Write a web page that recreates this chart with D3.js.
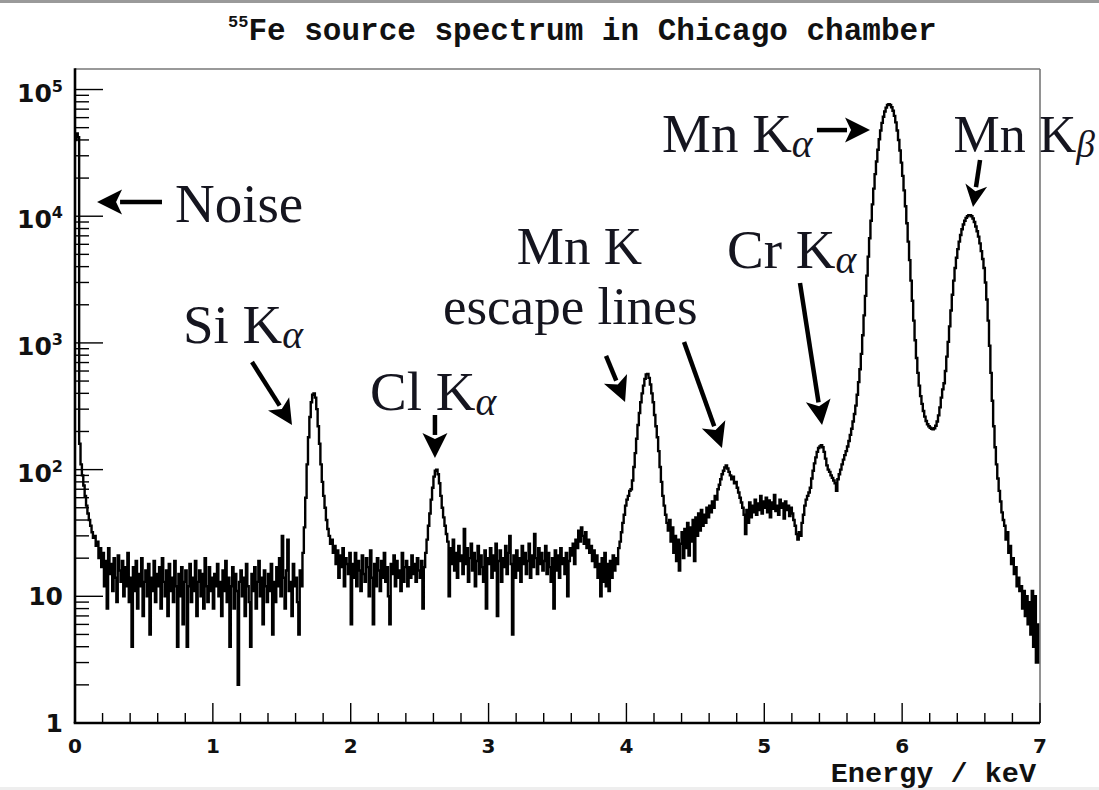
<!DOCTYPE html>
<html><head><meta charset="utf-8">
<script src="https://cdn.jsdelivr.net/npm/d3@7"></script>
<style>body{margin:0;background:#fff;overflow:hidden}</style>
</head><body>
<svg id="c" width="1099" height="790"></svg>
<script>
// ---------- DATA (counts per 0.01 keV bin) ----------
const binWidthKeV = 0.01;
const spec0to1 = [
  40000,45000,42000,160,110,90,75,62,52,45,40,36,32,29,30,25,27,20,24,17,
  22,12,19,8,24,15,18,11,20,14,9,21,16,13,19,10,17,12,22,9,
  14,4,17,11,19,8,15,12,20,7,13,16,10,18,5,14,11,19,9,15,
  12,17,8,20,13,10,16,7,18,11,14,9,19,12,4,15,10,17,6,13,
  16,4,12,18,9,14,11,19,7,13,16,10,15,8,20,12,9,17,11,14];
const spec1to2 = [
  8,15,12,18,10,13,7,16,11,19,9,14,4,12,17,8,15,11,2,13,
  16,10,14,7,18,12,9,4,15,11,17,8,13,19,10,14,6,16,12,9,
  15,11,18,5,13,9,17,12,20,10,30,14,8,16,28,11,13,7,18,12,
  14,9,5,16,12,22,35,60,110,180,260,340,390,400,370,300,220,160,110,80,
  62,50,40,34,30,26,28,22,25,18,23,14,21,17,24,12,20,18,15,22];
const spec2to3 = [
  6,18,14,22,12,19,16,11,21,15,13,20,17,10,23,14,6,18,12,20,
  16,11,19,14,22,13,17,10,6,18,15,21,12,19,14,16,11,22,13,17,
  19,12,17,14,21,15,18,13,20,16,14,19,8,17,22,28,36,45,58,72,
  88,98,100,92,78,62,50,42,36,31,27,10,24,18,28,16,22,14,25,19,
  21,15,34,18,24,13,20,26,16,22,12,19,25,15,21,17,13,23,8,20];
const spec3to4 = [
  18,24,14,21,16,26,7,19,23,13,20,17,25,15,22,30,18,5,21,14,
  23,16,20,13,25,18,22,15,19,26,14,21,17,31,20,15,24,18,22,16,
  19,25,15,22,17,13,20,8,23,16,21,14,24,18,20,15,22,10,19,24,
  21,26,18,28,24,33,27,35,30,26,32,24,28,22,25,19,23,17,21,14,
  18,10,20,13,22,12,18,11,19,14,21,16,20,18,24,27,32,38,44,52];
const spec4to5 = [
  58,62,68,70,82,105,135,175,225,280,340,400,460,520,565,570,530,470,400,340,
  270,220,180,140,105,80,62,52,44,38,33,40,27,35,22,30,19,28,16,26,
  32,20,34,24,38,21,35,27,40,19,42,30,45,33,48,36,44,38,50,42,
  52,46,56,50,62,58,70,76,84,92,98,104,108,102,96,90,84,88,78,80,
  72,66,60,55,50,44,31,48,38,55,42,52,46,58,44,54,48,62,45,56];
const spec5to6 = [
  50,60,46,57,42,55,49,63,47,52,44,58,50,54,41,56,48,52,43,50,
  45,40,36,31,28,32,30,38,44,52,58,62,66,72,85,98,112,125,138,148,
  152,156,150,138,122,108,100,96,90,86,82,78,68,84,92,100,110,120,130,140,
  152,168,188,210,240,275,320,390,490,620,820,1150,1650,2350,3400,4800,6700,9200,12400,16500,
  21500,27000,33500,40500,47500,54500,61000,67000,72000,75500,76500,75500,72500,68000,62000,55000,47500,40000,33000,26500];
const spec6to7 = [
  20800,16000,12000,8800,6300,4500,3100,2150,1500,1050,760,580,460,380,330,290,262,242,228,220,
  214,210,208,212,222,240,268,310,370,430,480,600,780,1020,1350,1800,2400,3100,3900,4700,
  5500,6300,7100,7900,8600,9200,9700,10000,10200,10200,10000,9600,9000,8300,7600,6900,6100,5300,4600,3900,
  3000,2200,1500,950,580,350,220,150,110,85,68,56,46,40,36,28,32,22,25,18,
  20,15,17,12,14,11,12,8,11,7,10,6,9,5,11,4,10,3,6,3];

const xMajorTicks = [0,1,2,3,4,5,6,7];
const xTickLabels = ["0","1","2","3","4","5","6","7"];
const yMajorTicks = [1,10,100,1000,10000,100000];
const yTickBase = ["1","10","10","10","10","10"];
const yTickExp  = ["","","2","3","4","5"];

const titleSup = "55";
const titleText = "Fe source spectrum in Chicago chamber";
const xAxisTitle = "Energy / keV";

// annotation labels in data units (keV, log10 counts)
const labelTexts = ["Noise","Si K","Cl K","Mn K","escape lines","Cr K","Mn K","Mn K"];
const labelSubs  = ["","\u03b1","\u03b1","","","\u03b1","\u03b1","\u03b2"];
const labelKeV   = [0.725,0.783,2.140,3.205,2.669,4.730,4.258,6.372];
const labelLogY  = [3.954,2.999,2.470,3.620,3.150,3.591,4.507,4.507];
const labelSize  = [55,55,55,53,53,55,55,52];
// arrows: start (keV, log10) -> tip (keV, log10)
const arrowFrom = [[0.631,4.112],[1.284,2.849],[2.611,2.431],[3.852,2.897],[4.418,3.007],[5.259,3.473],[5.382,4.680],[6.565,4.444]];
const arrowTo   = [[0.160,4.112],[1.574,2.352],[2.611,2.092],[3.990,2.534],[4.693,2.171],[5.419,2.352],[5.767,4.680],[6.514,4.073]];

// ---------- DRAW ----------
const counts = [].concat(spec0to1,spec1to2,spec2to3,spec3to4,spec4to5,spec5to6,spec6to7);
const svg = d3.select("#c");
const L=75,R=1040,T=69,B=723;
const x = d3.scaleLinear().domain([0,7]).range([L,R]);
const y = d3.scaleLog().domain([1,Math.pow(10,5.162)]).range([B,T]);

// page decorations
svg.append("rect").attr("x",0).attr("y",0).attr("width",1099).attr("height",3).attr("fill","#9a9a9a");
svg.append("rect").attr("x",0).attr("y",787).attr("width",1099).attr("height",3).attr("fill","#eeeeee");

// title
const tt = svg.append("text").attr("x",228).attr("y",40)
  .attr("font-family","'Liberation Mono','Courier New',monospace").attr("font-weight","bold").attr("fill","#111");
tt.append("tspan").attr("font-size",17).attr("dy",-13).text(titleSup);
tt.append("tspan").attr("font-size",31).attr("dy",13).text(titleText);

// spectrum
const pts = counts.map((c,i)=>[i*binWidthKeV,c]);
pts.push([counts.length*binWidthKeV, counts[counts.length-1]]);
const line = d3.line().x(d=>x(d[0])).y(d=>y(d[1])).curve(d3.curveStepAfter);
svg.append("path").datum(pts).attr("d",line).attr("fill","none")
  .attr("stroke","#000").attr("stroke-width",2.4).attr("stroke-linejoin","miter");

// annotations
const ann = svg.append("g").attr("font-family","'Liberation Serif','Times New Roman',serif").attr("fill","#15151f");
labelTexts.forEach((t,i)=>{
  const tx = ann.append("text").attr("x",x(labelKeV[i])).attr("y",y(Math.pow(10,labelLogY[i]))).attr("font-size",labelSize[i]);
  tx.append("tspan").text(t);
  if(labelSubs[i]) tx.append("tspan").attr("font-size",labelSize[i]*0.72).attr("font-style","italic").attr("dy",5).text(labelSubs[i]);
});
arrowFrom.forEach((f,i)=>{
  const x1=x(f[0]), y1=y(Math.pow(10,f[1]));
  const x2=x(arrowTo[i][0]), y2=y(Math.pow(10,arrowTo[i][1]));
  const dx=x2-x1, dy=y2-y1, len=Math.hypot(dx,dy), ux=dx/len, uy=dy/len;
  const hl = i===7?22:25, hw = i===7?11:12.5;
  const bx=x2-ux*hl, by=y2-uy*hl;
  ann.append("line").attr("x1",x1).attr("y1",y1).attr("x2",bx+ux*2).attr("y2",by+uy*2)
    .attr("stroke","#000").attr("stroke-width",4.5);
  ann.append("path").attr("d",`M${x2},${y2}L${bx-uy*hw},${by+ux*hw}L${bx+ux*6},${by+uy*6}L${bx+uy*hw},${by-ux*hw}Z`)
    .attr("fill","#000");
});

// frame (top/right)
svg.append("line").attr("x1",L).attr("x2",R).attr("y1",T).attr("y2",T).attr("stroke","#777").attr("stroke-width",1.6);
svg.append("line").attr("x1",R).attr("x2",R).attr("y1",T).attr("y2",B).attr("stroke","#777").attr("stroke-width",1.6);

// y axis ticks
const yMinor = [];
for(let k=0;k<5;k++) for(let m=2;m<=9;m++) yMinor.push(m*Math.pow(10,k));
svg.selectAll(".ymin").data(yMinor).enter().append("line")
  .attr("x1",L).attr("x2",L+14).attr("y1",d=>y(d)).attr("y2",d=>y(d)).attr("stroke","#000").attr("stroke-width",1.4);
svg.selectAll(".ymaj").data(yMajorTicks).enter().append("line")
  .attr("x1",L).attr("x2",L+28).attr("y1",d=>y(d)).attr("y2",d=>y(d)).attr("stroke","#000").attr("stroke-width",1.4);
const ylab = svg.append("g").attr("font-family","'DejaVu Sans',Verdana,sans-serif").attr("font-weight","bold").attr("fill","#111");
yMajorTicks.forEach((v,i)=>{
  const hasExp = yTickExp[i]!=="";
  const t = ylab.append("text").attr("x",63).attr("text-anchor","end")
     .attr("y", y(v) + (hasExp?12:9)).attr("font-size",25);
  t.append("tspan").text(yTickBase[i]);
  if(hasExp) t.append("tspan").attr("font-size",16).attr("dy",-10).text(yTickExp[i]);
});

// x axis ticks
const xMinor = d3.range(0,7.001,0.2).filter(v=>Math.abs(v-Math.round(v))>1e-6);
svg.selectAll(".xmin").data(xMinor).enter().append("line")
  .attr("x1",d=>x(d)).attr("x2",d=>x(d)).attr("y1",B).attr("y2",B-10).attr("stroke","#000").attr("stroke-width",1.4);
svg.selectAll(".xmaj").data(xMajorTicks).enter().append("line")
  .attr("x1",d=>x(d)).attr("x2",d=>x(d)).attr("y1",B).attr("y2",B-20).attr("stroke","#000").attr("stroke-width",1.4);
svg.append("g").selectAll("text").data(xMajorTicks).enter().append("text")
  .attr("x",d=>x(d)).attr("y",753).attr("text-anchor","middle")
  .attr("font-family","'DejaVu Sans',Verdana,sans-serif").attr("font-weight","bold").attr("font-size",20).attr("fill","#111")
  .text((d,i)=>xTickLabels[i]);

// axis lines
svg.append("line").attr("x1",L).attr("x2",L).attr("y1",T-0.8).attr("y2",B).attr("stroke","#000").attr("stroke-width",2.6);
svg.append("line").attr("x1",L-1.3).attr("x2",R).attr("y1",B).attr("y2",B).attr("stroke","#000").attr("stroke-width",2.6);

svg.append("text").attr("x",1036).attr("y",782).attr("text-anchor","end")
  .attr("font-family","'Liberation Mono','Courier New',monospace").attr("font-weight","bold").attr("font-size",28.5).attr("fill","#111")
  .text(xAxisTitle);
</script>
</body></html>
